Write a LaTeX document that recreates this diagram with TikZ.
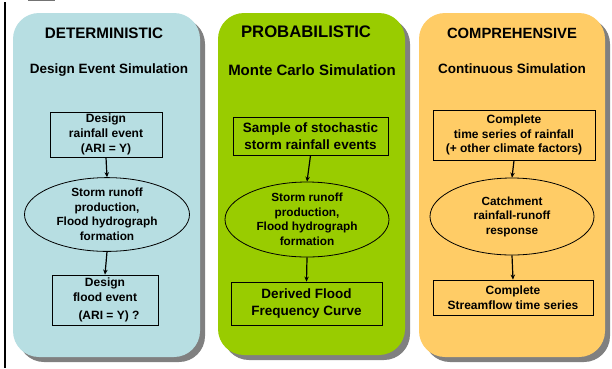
\documentclass[tikz,border=0pt]{standalone}
\usepackage{fontspec}
\setmainfont{Liberation Sans}
\usetikzlibrary{shapes.geometric,arrows.meta}
\definecolor{pblue}{HTML}{B7DEE2}
\definecolor{pgreen}{HTML}{99CC00}
\definecolor{porange}{HTML}{FFCC66}
\definecolor{pshadow}{HTML}{808080}
\tikzset{
  panel/.style={rounded corners=26pt, draw=none},
  shadowbox/.style={rounded corners=26pt, fill=pshadow, draw=none},
  ptitle/.style={font=\bfseries\fontsize{15.2}{17}\selectfont, anchor=center},
  psub/.style={font=\bfseries\fontsize{13.5}{16}\selectfont, anchor=center},
  stepbox/.style={draw=black, line width=0.9pt, align=center, inner sep=0pt, font=\bfseries\fontsize{12}{14.8}\selectfont},
  bigbox/.style={stepbox, font=\bfseries\fontsize{13.5}{17}\selectfont},
  procell/.style={ellipse, draw=black, line width=0.8pt, align=center, inner sep=0pt, font=\bfseries\fontsize{11.8}{14.5}\selectfont},
  flow/.style={-{Stealth[length=5pt,width=4.5pt]}, line width=1.2pt}
}
\begin{document}
\begin{tikzpicture}[x=1pt,y=-1pt]
\useasboundingbox (0,0) rectangle (612,368);
\fill[white] (0,0) rectangle (612,368);
% left rule
\draw[line width=2pt] (5,2) -- (5,368);
\fill[black!55] (28,0) rectangle (55,1.2);
% shadows
\fill[shadowbox] (18,18) rectangle (205,362);
\fill[shadowbox] (223,18) rectangle (410,360);
\fill[shadowbox] (424,18) rectangle (610,362);
% panels
\fill[panel, fill=pblue] (13,13) rectangle (200,357);
\fill[panel, fill=pgreen] (218,13) rectangle (405,355);
\fill[panel, fill=porange] (419,13) rectangle (605,357);
% panel 1
\node[ptitle] (t1) at (104,33) {DETERMINISTIC};
\node[psub] (s1) at (109,70) {Design Event Simulation};
\node[stepbox, minimum width=112pt, minimum height=45pt] (a1) at (106,134.5) {Design\\rainfall event\\(ARI = Y)};
\node[procell, minimum width=165pt, minimum height=73pt] (b1) at (107,214.5) {Storm runoff\\production,\\Flood hydrograph\\formation};
\node[stepbox, minimum width=106pt, minimum height=50pt] (c1) at (105,300) {Design\\flood event\\[3pt]\hspace*{8pt}(ARI = Y) ?};
\draw[flow] (a1.south) -- (b1.north);
\draw[flow] (b1.south) -- (c1.north);
% panel 2
\node[ptitle, font=\bfseries\fontsize{16.7}{19}\selectfont] (t2) at (306,32) {PROBABILISTIC};
\node[psub, font=\bfseries\fontsize{15}{17}\selectfont] (s2) at (312,70) {Monte Carlo Simulation};
\node[bigbox, minimum width=155pt, minimum height=38pt] (a2) at (310.5,136) {Sample of stochastic\\storm rainfall events};
\node[procell, minimum width=164pt, minimum height=75pt] (b2) at (307,219.5) {Storm runoff\\production,\\Flood hydrograph\\formation};
\node[bigbox, minimum width=151pt, minimum height=43pt] (c2) at (306.5,303.5) {Derived Flood\\Frequency Curve};
\draw[flow] (a2.south) -- (b2.north);
\draw[flow] (b2.south) -- (c2.north);
% panel 3
\node[ptitle, font=\bfseries\fontsize{14.8}{17}\selectfont] (t3) at (512,33) {COMPREHENSIVE};
\node[psub] (s3) at (512,69) {Continuous Simulation};
\node[stepbox, minimum width=162pt, minimum height=50pt] (a3) at (514,135) {Complete\\time series of rainfall\\(+ other climate factors)};
\node[procell, minimum width=164pt, minimum height=77pt] (b3) at (512,216.5) {Catchment\\rainfall-runoff\\response};
\node[stepbox, minimum width=160pt, minimum height=35pt] (c3) at (513,297.5) {Complete\\Streamflow time series};
\draw[flow] (a3.south) -- (b3.north);
\draw[flow] (b3.south) -- (c3.north);
\end{tikzpicture}
\end{document}
